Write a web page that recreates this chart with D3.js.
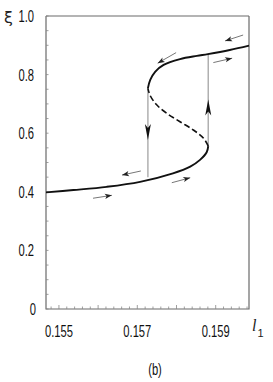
<!DOCTYPE html>
<html>
<head>
<meta charset="utf-8">
<script src="https://cdn.jsdelivr.net/npm/d3@7"></script>
<style>
  body { margin: 0; background: #fff; }
  svg { display: block; }
  .tick-label { font-family: "Liberation Sans", Arial, sans-serif; font-size: 16px; fill: #111; }
</style>
</head>
<body>
<div id="chart"></div>
<script>
// values: [l1, xi]
const lowerBranch = [[0.15467, 0.398], [0.15537, 0.406], [0.15622, 0.417], [0.15707, 0.434],
    [0.15791, 0.463], [0.15835, 0.486], [0.15860, 0.509], [0.15877, 0.535], [0.15881, 0.556]];
const middleBranch = [[0.15881, 0.556], [0.15869, 0.583], [0.15843, 0.611], [0.15809, 0.639],
    [0.15775, 0.668], [0.15750, 0.696], [0.15733, 0.728], [0.15727, 0.753]];
const upperBranch = [[0.15727, 0.753], [0.15733, 0.782], [0.15746, 0.810], [0.15767, 0.833],
    [0.15809, 0.853], [0.15852, 0.864], [0.15880, 0.870], [0.15936, 0.884], [0.15985, 0.899]];
// vertical jumps: l1, from xi, to xi, arrow tip xi
const jumps = [
    {l: 0.15727, from: 0.753, to: 0.450, tip: 0.577},
    {l: 0.15881, from: 0.556, to: 0.870, tip: 0.715}
];
// small direction arrows: [l1 start, xi start, l1 end, xi end]
const dirArrows = [
    [0.15970, 0.935, 0.15924, 0.915],
    [0.15799, 0.875, 0.15752, 0.839],
    [0.15894, 0.841, 0.15942, 0.856],
    [0.15709, 0.471, 0.15661, 0.457],
    [0.15788, 0.431, 0.15835, 0.448],
    [0.15587, 0.378, 0.15635, 0.388]
];
const xTickLabels = [0.155, 0.157, 0.159];
const yTickLabels = [0, 0.2, 0.4, 0.6, 0.8, 1.0];
const xDomain = [0.15467, 0.15985];
const yDomain = [0, 1];

const width = 273, height = 382;
const mLeft = 46, mRight = 249, mTop = 16, mBottom = 309;
const narrow = 0.7; // condensed look of the labels

const svg = d3.select("#chart").append("svg")
    .attr("width", width)
    .attr("height", height);

const x = d3.scaleLinear().domain(xDomain).range([mLeft, mRight]);
const y = d3.scaleLinear().domain(yDomain).range([mBottom, mTop]);

// frame
svg.append("path")
    .attr("d", `M${mLeft},${mTop}H${mRight}M${mLeft},${mTop}V${mBottom}H${mRight}V${mTop}`)
    .attr("fill", "none")
    .attr("stroke", "#6a6a6a")
    .attr("stroke-width", 1.2);

// y minor ticks, inside
const yMinor = d3.range(0, 1.0001, 0.05);
svg.append("g").selectAll("line").data(yMinor).enter().append("line")
    .attr("x1", mLeft).attr("x2", mLeft + 2.5)
    .attr("y1", d => y(d)).attr("y2", d => y(d))
    .attr("stroke", "#888").attr("stroke-width", 0.8);

// x minor ticks, inside
const xMinor = d3.range(0.1548, xDomain[1], 0.0002);
svg.append("g").selectAll("line").data(xMinor).enter().append("line")
    .attr("x1", d => x(d)).attr("x2", d => x(d))
    .attr("y1", mBottom)
    .attr("y2", d => Math.abs(Math.round(d * 1e4) % 5) === 0 ? mBottom - 4 : mBottom - 2.5)
    .attr("stroke", "#888").attr("stroke-width", 0.8);

// tick labels
svg.append("g").selectAll("text").data(yTickLabels).enter().append("text")
    .attr("class", "tick-label")
    .attr("transform", d => `translate(${d === 0 ? 36 : 34},${y(d) + 6}) scale(${narrow},1)`)
    .attr("text-anchor", "end")
    .text(d => d === 0 ? "0" : d.toFixed(1));

svg.append("g").selectAll("text").data(xTickLabels).enter().append("text")
    .attr("class", "tick-label")
    .attr("transform", d => `translate(${x(d)},337) scale(${narrow},1)`)
    .attr("text-anchor", "middle")
    .text(d => d.toFixed(3));

// axis names
svg.append("text")
    .attr("x", 4).attr("y", 23)
    .attr("font-family", "DejaVu Sans, sans-serif")
    .attr("font-size", 16)
    .attr("fill", "#222")
    .text("ξ");

const lLabel = svg.append("text")
    .attr("x", 252).attr("y", 331)
    .attr("font-family", "Liberation Serif, serif")
    .attr("font-style", "italic")
    .attr("font-size", 16)
    .attr("fill", "#222");
lLabel.append("tspan").text("l");
lLabel.append("tspan").attr("dy", 6).attr("dx", 1).attr("font-size", 11).attr("font-style", "normal")
    .attr("font-family", "Liberation Sans, sans-serif").text("1");

svg.append("text")
    .attr("class", "tick-label")
    .attr("transform", `translate(155,375) scale(${narrow},1)`)
    .attr("text-anchor", "middle")
    .text("(b)");

// jump lines
svg.append("g").selectAll("line").data(jumps).enter().append("line")
    .attr("x1", d => x(d.l)).attr("x2", d => x(d.l))
    .attr("y1", d => y(d.from)).attr("y2", d => y(d.to))
    .attr("stroke", "#b0b0b0").attr("stroke-width", 1.5);

// curve branches
const line = d3.line()
    .x(d => x(d[0]))
    .y(d => y(d[1]))
    .curve(d3.curveCatmullRom.alpha(0.5));

svg.append("path").attr("d", line(lowerBranch))
    .attr("fill", "none").attr("stroke", "#111").attr("stroke-width", 1.9);
svg.append("path").attr("d", line(upperBranch))
    .attr("fill", "none").attr("stroke", "#111").attr("stroke-width", 1.9);
svg.append("path").attr("d", line(middleBranch))
    .attr("fill", "none").attr("stroke", "#111").attr("stroke-width", 1.6)
    .attr("stroke-dasharray", "6,3");

// arrowhead with tip at (tx, ty) pointing along angle
function arrowHead(tx, ty, angle, len, half, fill) {
    const c = Math.cos(angle), s = Math.sin(angle);
    const bx = tx - c * len, by = ty - s * len;
    const nx = -s * half, ny = c * half;
    const mx = tx - c * len * 0.75, my = ty - s * len * 0.75;
    svg.append("path")
        .attr("d", `M${tx},${ty}L${bx + nx},${by + ny}L${mx},${my}L${bx - nx},${by - ny}Z`)
        .attr("fill", fill);
}

jumps.forEach(d => {
    const dir = d.to < d.from ? Math.PI / 2 : -Math.PI / 2;
    arrowHead(x(d.l), y(d.tip), dir, 16, 3, "#111");
});

// small direction arrows
dirArrows.forEach(d => {
    const x1 = x(d[0]), y1 = y(d[1]), x2 = x(d[2]), y2 = y(d[3]);
    svg.append("line")
        .attr("x1", x1).attr("y1", y1).attr("x2", x2).attr("y2", y2)
        .attr("stroke", "#777").attr("stroke-width", 1);
    arrowHead(x2, y2, Math.atan2(y2 - y1, x2 - x1), 7, 2.6, "#222");
});
</script>
</body>
</html>
